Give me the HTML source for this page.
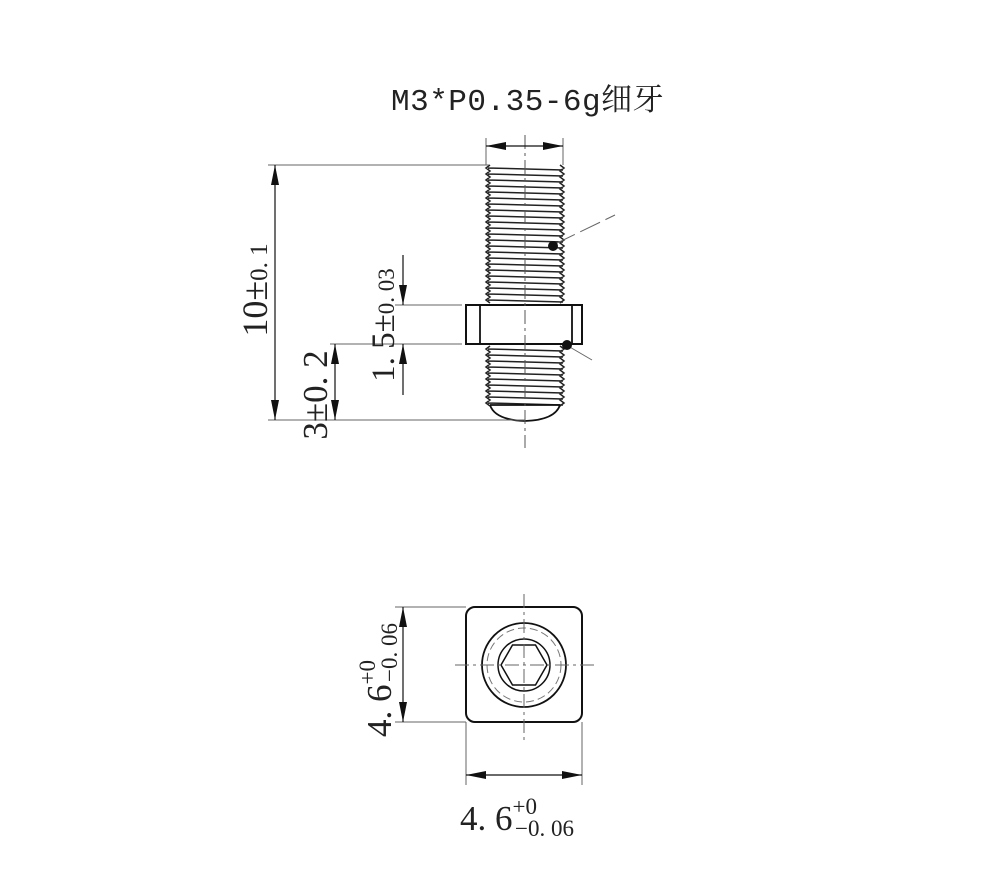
<!DOCTYPE html>
<html><head><meta charset="utf-8"><style>
html,body{margin:0;padding:0;background:#fff;width:1001px;height:895px;overflow:hidden}
svg{display:block}
text{font-family:"Liberation Serif","Noto Serif CJK SC",serif;fill:#222}
</style></head><body>
<svg id="s" width="1001" height="895" viewBox="0 0 1001 895" xmlns="http://www.w3.org/2000/svg">
<defs>
<marker id="a" viewBox="0 0 20 8" refX="20" refY="4" markerWidth="20" markerHeight="8" markerUnits="userSpaceOnUse" orient="auto-start-reverse"><path d="M0,0 L20,4 L0,8z" fill="#111"/></marker>
</defs>
<text x="391" y="110" font-size="31" style="font-family:'Liberation Mono','Noto Serif CJK SC',monospace" letter-spacing="0.5">M3*P0.35-6g细牙</text>
<g id="thr" stroke="#222" stroke-width="1.5" fill="none"></g>
<g stroke="#111" stroke-width="2" fill="#fff">
<rect x="466" y="305" width="116" height="39"/>
</g>
<g stroke="#111" stroke-width="1.8" fill="none">
<line x1="480" y1="305" x2="480" y2="344"/><line x1="572" y1="305" x2="572" y2="344"/>
<path d="M490,405 Q495,420 525,421 Q555,420 560,405"/>
<line x1="490" y1="405" x2="560" y2="405"/>
</g>
<g stroke="#555" stroke-width="1" stroke-dasharray="14,4,3,4" fill="none">
<line x1="525" y1="135" x2="525" y2="448"/>
</g>
<g stroke="#666" stroke-width="1" fill="none">
<line x1="486" y1="138" x2="486" y2="165"/><line x1="563" y1="138" x2="563" y2="165"/>
<line x1="268" y1="165" x2="489" y2="165"/><line x1="268" y1="420" x2="525" y2="420"/>
<line x1="395" y1="305" x2="462" y2="305"/><line x1="330" y1="344" x2="462" y2="344"/>
<line x1="555" y1="244" x2="615" y2="215" stroke-dasharray="22,6"/>
<line x1="568" y1="346" x2="592" y2="360"/>
</g>
<g stroke="#111" stroke-width="1.2" fill="none">
<line x1="486" y1="146" x2="563" y2="146" marker-start="url(#a)" marker-end="url(#a)"/>
<line x1="275" y1="165" x2="275" y2="420" marker-start="url(#a)" marker-end="url(#a)"/>
<line x1="403" y1="255" x2="403" y2="305" marker-end="url(#a)"/>
<line x1="403" y1="395" x2="403" y2="344" marker-end="url(#a)"/>
<line x1="335" y1="344" x2="335" y2="420" marker-start="url(#a)" marker-end="url(#a)"/>
</g>
<circle cx="553" cy="246" r="5" fill="#111"/><circle cx="567" cy="345" r="5" fill="#111"/>
<text transform="translate(267,290) rotate(-90)" font-size="36" text-anchor="middle">10±<tspan font-size="25">0. 1</tspan></text>
<text transform="translate(394,325) rotate(-90)" font-size="33" text-anchor="middle">1. 5±<tspan font-size="23">0. 03</tspan></text>
<text transform="translate(327,395) rotate(-90)" font-size="35" text-anchor="middle">3±0. 2</text>

<rect x="466" y="607" width="116" height="115" rx="9" fill="none" stroke="#111" stroke-width="2"/>
<circle cx="524" cy="665" r="42" fill="none" stroke="#111" stroke-width="1.8"/>
<circle cx="524" cy="665" r="37" fill="none" stroke="#777" stroke-width="1" stroke-dasharray="8,4"/>
<circle cx="524" cy="665" r="26" fill="none" stroke="#111" stroke-width="1.5"/>
<polygon points="547,665 535.5,685 512.5,685 501,665 512.5,645 535.5,645" fill="none" stroke="#111" stroke-width="1.5"/>
<g stroke="#666" stroke-width="1" stroke-dasharray="14,4,3,4"><line x1="455" y1="665" x2="594" y2="665"/><line x1="524" y1="594" x2="524" y2="740"/></g>
<g stroke="#666" stroke-width="1"><line x1="395" y1="607" x2="466" y2="607"/><line x1="395" y1="722" x2="466" y2="722"/>
<line x1="466" y1="722" x2="466" y2="785"/><line x1="582" y1="722" x2="582" y2="785"/></g>
<g stroke="#111" stroke-width="1.2"><line x1="403" y1="607" x2="403" y2="722" marker-start="url(#a)" marker-end="url(#a)"/>
<line x1="466" y1="775" x2="582" y2="775" marker-start="url(#a)" marker-end="url(#a)"/></g>
<text transform="translate(391,737) rotate(-90)" font-size="35">4. 6<tspan font-size="23" dy="-16">+0</tspan><tspan font-size="23" dx="-22" dy="22">−0. 06</tspan></text>
<text x="460" y="830" font-size="35">4. 6<tspan font-size="23" dy="-16">+0</tspan><tspan font-size="23" dx="-22" dy="22">−0. 06</tspan></text>
</svg>
<script>
var g=document.getElementById('thr'),ns='http://www.w3.org/2000/svg',d='';
function seg(y0,y1){var L='M490,'+y0,R='M560,'+y0;for(var y=y0;y<y1;y+=6){L+=' L486,'+(y+3)+' L490,'+(y+6);R+=' L564,'+(y+3)+' L560,'+(y+6);d+=' M488,'+(y+3)+' L563,'+(y+5);}d+=' '+L+' '+R;}
seg(165,303);seg(346,405);
var p=document.createElementNS(ns,'path');p.setAttribute('d',d);g.appendChild(p);
</script>
</body></html>
